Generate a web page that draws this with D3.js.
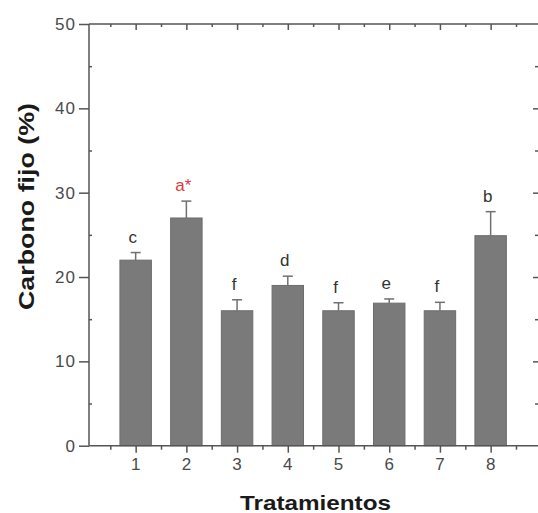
<!DOCTYPE html>
<html>
<head>
<meta charset="utf-8">
<script src="https://cdn.jsdelivr.net/npm/d3@7/dist/d3.min.js"></script>
<style>
  html, body { margin: 0; padding: 0; background: #fff; }
  svg { display: block; }
  text { font-family: "Liberation Sans", Arial, sans-serif; }
</style>
</head>
<body>
<svg id="chart" width="538" height="513"></svg>
<script>
// Treatments and measured fixed-carbon content (mean and upper error)
const categories = ["1", "2", "3", "4", "5", "6", "7", "8"];
const carbonoFijo = [22.0, 27.0, 16.0, 19.0, 16.0, 16.9, 16.0, 24.9];
const errorSup = [0.9, 2.0, 1.3, 1.1, 0.95, 0.5, 1.0, 2.85];
const grupos = ["c", "a*", "f", "d", "f", "e", "f", "b"];
const yTicks = [0, 10, 20, 30, 40, 50];
const yMinorTicks = [5, 15, 25, 35, 45];

const W = 538, H = 513;
const plotLeft = 89, plotRight = 537.3, plotTop = 24, plotBottom = 445.7;
const axisColor = "#555";

const svg = d3.select("#chart");

const x = d3.scaleLinear().domain([0.08, 8.92]).range([plotLeft, plotRight]);
const y = d3.scaleLinear().domain([0, 50]).range([plotBottom, plotTop]);

const catPos = categories.map((c, i) => i + 1);
const minorX = d3.range(0.5, 9, 1);
const barW = x(0.62) - x(0);

// bars
svg.append("g").selectAll("rect")
  .data(carbonoFijo)
  .join("rect")
  .attr("x", (d, i) => x(catPos[i]) - barW / 2)
  .attr("width", barW)
  .attr("y", d => y(d))
  .attr("height", d => y(0) - y(d))
  .attr("fill", "#7a7a7a")
  .attr("stroke", "#6c6c6c")
  .attr("stroke-width", 1);

// upper error bars
const eb = svg.append("g").attr("stroke", "#707070").attr("stroke-width", 1.5);
carbonoFijo.forEach((v, i) => {
  const cx = x(catPos[i]);
  eb.append("line").attr("x1", cx).attr("x2", cx).attr("y1", y(v)).attr("y2", y(v + errorSup[i]));
  eb.append("line").attr("x1", cx - 5).attr("x2", cx + 5).attr("y1", y(v + errorSup[i])).attr("y2", y(v + errorSup[i]));
});

// significance letters
svg.append("g").selectAll("text")
  .data(grupos)
  .join("text")
  .attr("x", (d, i) => x(catPos[i]) - 3)
  .attr("y", (d, i) => y(carbonoFijo[i] + errorSup[i]) - 10)
  .attr("text-anchor", "middle")
  .attr("font-size", 17)
  .attr("fill", d => d === "a*" ? "#e0393e" : "#333")
  .text(d => d);

function styleAxis(g) {
  g.selectAll(".domain").remove();
  g.selectAll(".tick line").attr("stroke", axisColor).attr("stroke-width", 1.5);
  g.selectAll(".tick text").attr("fill", "#4a4a4a").attr("font-size", 17)
    .attr("letter-spacing", 1).attr("font-family", "Liberation Sans, Arial, sans-serif");
}

// left axis
svg.append("g").attr("transform", `translate(${plotLeft},0)`)
  .call(d3.axisLeft(y).tickValues(yTicks).tickSize(10).tickPadding(3).tickFormat(d3.format("d")))
  .call(styleAxis);
svg.append("g").attr("transform", `translate(${plotLeft},0)`)
  .call(d3.axisLeft(y).tickValues(yMinorTicks).tickSize(-3).tickFormat(""))
  .call(styleAxis);

// right axis ticks (inward)
svg.append("g").attr("transform", `translate(${W},0)`)
  .call(d3.axisRight(y).tickValues(yTicks.slice(1, -1)).tickSize(-5).tickFormat(""))
  .call(styleAxis);
svg.append("g").attr("transform", `translate(${W},0)`)
  .call(d3.axisRight(y).tickValues(yMinorTicks).tickSize(-3).tickFormat(""))
  .call(styleAxis);

// bottom axis
svg.append("g").attr("transform", `translate(0,${plotBottom})`)
  .call(d3.axisBottom(x).tickValues(catPos).tickSize(7).tickPadding(5).tickFormat((d, i) => categories[i]))
  .call(styleAxis);
svg.append("g").attr("transform", `translate(0,${plotBottom})`)
  .call(d3.axisBottom(x).tickValues(minorX).tickSize(4).tickFormat(""))
  .call(styleAxis);

// top axis ticks (inward)
svg.append("g").attr("transform", `translate(0,${plotTop})`)
  .call(d3.axisTop(x).tickValues(catPos).tickSize(-6).tickFormat(""))
  .call(styleAxis);
svg.append("g").attr("transform", `translate(0,${plotTop})`)
  .call(d3.axisTop(x).tickValues(minorX).tickSize(-3).tickFormat(""))
  .call(styleAxis);

// frame lines
const frame = svg.append("g").attr("stroke", axisColor).attr("stroke-width", 1.5).attr("fill", "none");
frame.append("line").attr("x1", plotLeft).attr("x2", plotLeft).attr("y1", plotTop).attr("y2", plotBottom);
frame.append("line").attr("x1", plotLeft).attr("x2", W).attr("y1", plotBottom).attr("y2", plotBottom);
frame.append("line").attr("x1", plotLeft).attr("x2", W).attr("y1", plotTop).attr("y2", plotTop);

// axis titles
svg.append("text")
  .attr("x", 315.5).attr("y", 510)
  .attr("text-anchor", "middle")
  .attr("font-size", 21).attr("font-weight", "bold").attr("fill", "#1a1a1a")
  .attr("textLength", 151).attr("lengthAdjust", "spacingAndGlyphs")
  .text("Tratamientos");

svg.append("text")
  .attr("transform", "translate(34,206.5) rotate(-90)")
  .attr("text-anchor", "middle")
  .attr("font-size", 22).attr("font-weight", "bold").attr("fill", "#1a1a1a")
  .attr("textLength", 207).attr("lengthAdjust", "spacingAndGlyphs")
  .text("Carbono fijo (%)");
</script>
</body>
</html>
